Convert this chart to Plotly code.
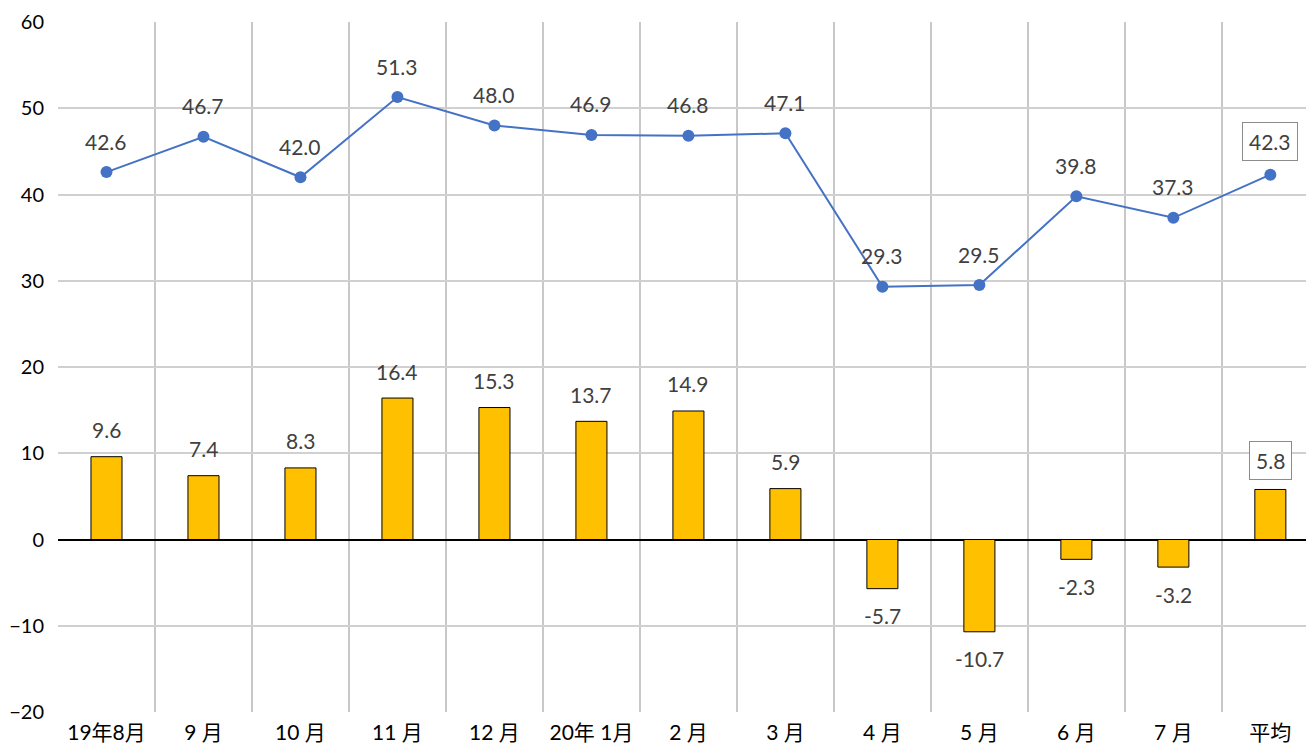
import plotly.graph_objects as go

categories = ["19年8月", "9 月", "10 月", "11 月", "12 月", "20年 1月", "2 月", "3 月", "4 月", "5 月", "6 月", "7 月", "平均"]
line_values = [42.6, 46.7, 42.0, 51.3, 48.0, 46.9, 46.8, 47.1, 29.3, 29.5, 39.8, 37.3, 42.3]
bar_values = [9.6, 7.4, 8.3, 16.4, 15.3, 13.7, 14.9, 5.9, -5.7, -10.7, -2.3, -3.2, 5.8]
y_ticks = [-20, -10, 0, 10, 20, 30, 40, 50, 60]

FONT = "Lato, Noto Sans CJK JP"
LABEL_COLOR = "#404040"

fig = go.Figure()
fig.add_trace(go.Bar(
    x=categories, y=bar_values,
    marker=dict(color="#FFC000", line=dict(color="#000000", width=1)),
    width=0.32, showlegend=False, hoverinfo="x+y",
))
fig.add_trace(go.Scatter(
    x=categories, y=line_values, mode="lines+markers",
    line=dict(color="#4472C4", width=2),
    marker=dict(color="#4472C4", size=12),
    showlegend=False,
))

annotations = []
last = len(categories) - 1
for i, (c, v) in enumerate(zip(categories, line_values)):
    boxed = i == last
    annotations.append(dict(
        x=c, y=v, xref="x", yref="y", text=f"{v:.1f}", showarrow=False,
        yshift=33 if boxed else 31, font=dict(family=FONT, size=21, color=LABEL_COLOR),
        bordercolor="#8C8C8C" if boxed else "rgba(0,0,0,0)", borderwidth=1,
        borderpad=6 if boxed else 1,
        bgcolor="white" if boxed else "rgba(0,0,0,0)",
    ))
for i, (c, v) in enumerate(zip(categories, bar_values)):
    boxed = i == last
    annotations.append(dict(
        x=c, y=v, xref="x", yref="y", text=f"{v:.1f}", showarrow=False,
        yshift=(29 if boxed else 27) if v >= 0 else -27,
        font=dict(family=FONT, size=21, color=LABEL_COLOR),
        bordercolor="#8C8C8C" if boxed else "rgba(0,0,0,0)", borderwidth=1,
        borderpad=6 if boxed else 1,
        bgcolor="white" if boxed else "rgba(0,0,0,0)",
    ))

# page body has an 8px margin; offset the figure so the plot lands where the reference's does
fig.update_layout(
    width=1306, height=745,
    margin=dict(l=50, r=0, t=14, b=41, autoexpand=False),
    paper_bgcolor="white", plot_bgcolor="white",
    font=dict(family=FONT, size=20, color="#000000"),
    annotations=annotations,
)
fig.update_xaxes(
    type="category", range=[-0.5, 12.45], tickson="boundaries", automargin=False,
    showgrid=True, gridcolor="#C8C8C8", gridwidth=1.5,
    ticks="", showline=False, ticklabelstandoff=6,
    tickfont=dict(family=FONT, size=21, color="#000000"),
)
fig.update_yaxes(
    range=[-20, 60], tickvals=y_ticks, automargin=False,
    showgrid=True, gridcolor="#D0D0D0", gridwidth=1.5,
    zeroline=True, zerolinecolor="#000000", zerolinewidth=2,
    ticks="", showline=False, ticklabelstandoff=13,
    tickfont=dict(family=FONT, size=20, color="#000000"),
)

fig.write_html("out.html")
